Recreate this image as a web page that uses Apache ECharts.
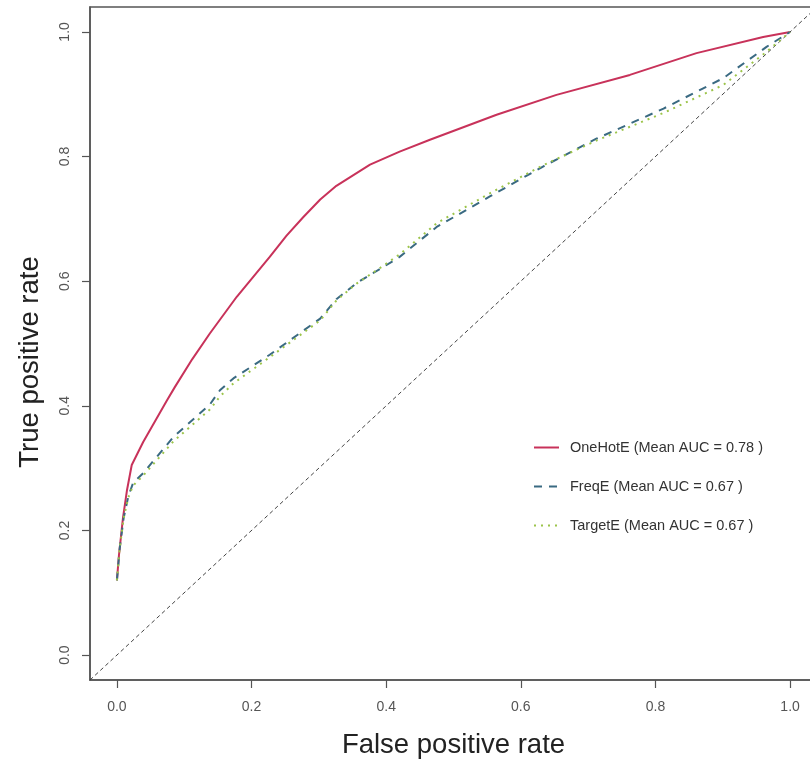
<!DOCTYPE html>
<html lang="en">
<head>
    <meta charset="UTF-8">
    <title>ROC</title>
    <script type="text/javascript" src="https://cdn.jsdelivr.net/npm/echarts@6/dist/echarts.min.js"></script>
    <style>
      html, body {margin: 0; padding: 0; background: #fff;}
      #roc {width: 810px; height: 764px;}
    </style>
</head>
<body>
  <div id="roc"></div>

<script type="text/javascript">

  // tick labels
  var tickValues = [0, 0.2, 0.4, 0.6, 0.8, 1.0];

  // OneHotE
  var oneHotFpr = [0, 0.003, 0.009, 0.015, 0.022, 0.039, 0.074, 0.086, 0.112, 0.138, 0.178, 0.227, 0.252, 0.277, 0.302, 0.326, 0.376, 0.420, 0.465, 0.564, 0.653, 0.762, 0.861, 0.96, 1.0];
  var oneHotTpr = [0.12, 0.16, 0.22, 0.265, 0.305, 0.342, 0.408, 0.430, 0.475, 0.516, 0.575, 0.639, 0.673, 0.703, 0.731, 0.753, 0.787, 0.808, 0.827, 0.867, 0.899, 0.931, 0.966, 0.992, 1.0];

  // FreqE
  var freqFpr = [0, 0.004, 0.010, 0.017, 0.024, 0.039, 0.084, 0.138, 0.153, 0.173, 0.227, 0.302, 0.326, 0.356, 0.396, 0.420, 0.475, 0.554, 0.633, 0.713, 0.812, 0.901, 0.965, 1.0];
  var freqTpr = [0.12, 0.17, 0.22, 0.255, 0.276, 0.292, 0.350, 0.402, 0.425, 0.444, 0.482, 0.540, 0.571, 0.597, 0.623, 0.639, 0.687, 0.736, 0.784, 0.829, 0.877, 0.926, 0.976, 1.0];

  // TargetE
  var targetFpr = [0, 0.004, 0.010, 0.017, 0.024, 0.039, 0.084, 0.138, 0.153, 0.173, 0.227, 0.302, 0.326, 0.356, 0.396, 0.420, 0.475, 0.554, 0.633, 0.713, 0.812, 0.901, 0.965, 1.0];
  var targetTpr = [0.12, 0.17, 0.22, 0.253, 0.272, 0.288, 0.343, 0.394, 0.415, 0.436, 0.478, 0.537, 0.569, 0.596, 0.625, 0.643, 0.693, 0.741, 0.786, 0.826, 0.870, 0.915, 0.968, 1.0];

  // chance line
  var diagX = [-0.04, 1.04];
  var diagY = [-0.04, 1.04];

  var legendNames = ['OneHotE (Mean AUC = 0.78 )', 'FreqE (Mean AUC = 0.67 )', 'TargetE (Mean AUC = 0.67 )'];

  function pairs(xs, ys){
    var out = [];
    for (var i = 0; i < xs.length; i++) {
      out.push([xs[i], ys[i]]);
    }
    return out;
  }

  var FONT = '"Liberation Sans", Arial, sans-serif';

  var chart = echarts.init(document.getElementById('roc'));

  var axisCommon = {
    type: 'value',
    min: -0.04,
    max: 1.04,
    splitLine: {show: false},
    axisLine: {show: true, onZero: false, lineStyle: {color: '#555', width: 1.5}},
    axisTick: {show: true, inside: false, length: 8, customValues: tickValues, lineStyle: {color: '#555', width: 1.2}},
    axisLabel: {
      customValues: tickValues,
      color: '#555',
      fontSize: 14,
      fontFamily: FONT,
      formatter: function (v) { return v.toFixed(1); }
    }
  };

  var option = {
    animation: false,
    backgroundColor: '#fff',
    grid: {
      left: 90, top: 7, width: 727, height: 673,
      outerBoundsMode: 'none',
      containLabel: false,
      show: true, borderColor: '#555', borderWidth: 1.5, backgroundColor: '#fff'
    },
    xAxis: Object.assign({}, axisCommon, {
      axisLabel: Object.assign({}, axisCommon.axisLabel, {margin: 20}),
      name: 'False positive rate',
      nameLocation: 'middle',
      nameGap: 51,
      nameTextStyle: {fontSize: 27.5, color: '#222', fontFamily: FONT}
    }),
    yAxis: Object.assign({}, axisCommon, {
      axisLabel: Object.assign({}, axisCommon.axisLabel, {rotate: 90, margin: 18})
    }),
    graphic: [{
      type: 'text',
      x: 30,
      y: 362,
      rotation: Math.PI / 2,
      style: {
        text: 'True positive rate',
        font: '27.5px ' + FONT,
        fill: '#222',
        align: 'center',
        verticalAlign: 'middle'
      }
    }],
    legend: {
      orient: 'vertical',
      left: 528,
      top: 435,
      itemWidth: 25,
      itemHeight: 14,
      itemGap: 24,
      itemStyle: {opacity: 0},
      textStyle: {fontSize: 14.5, color: '#333', fontFamily: FONT, padding: [0, 0, 0, 6]},
      data: legendNames
    },
    series: [
      {
        name: 'diag',
        type: 'line',
        data: pairs(diagX, diagY),
        symbol: 'none',
        silent: true,
        lineStyle: {color: '#444', width: 1, type: [4, 3]}
      },
      {
        name: legendNames[0],
        type: 'line',
        data: pairs(oneHotFpr, oneHotTpr),
        symbol: 'none',
        color: '#C8325A',
        lineStyle: {color: '#C8325A', width: 2}
      },
      {
        name: legendNames[1],
        type: 'line',
        data: pairs(freqFpr, freqTpr),
        symbol: 'none',
        color: '#3A6A82',
        lineStyle: {color: '#3A6A82', width: 2, type: [8, 7]}
      },
      {
        name: legendNames[2],
        type: 'line',
        data: pairs(targetFpr, targetTpr),
        symbol: 'none',
        color: '#9CC44A',
        lineStyle: {color: '#9CC44A', width: 2, type: [2, 5]}
      }
    ]
  };

  chart.setOption(option);
</script>
</body>
</html>
